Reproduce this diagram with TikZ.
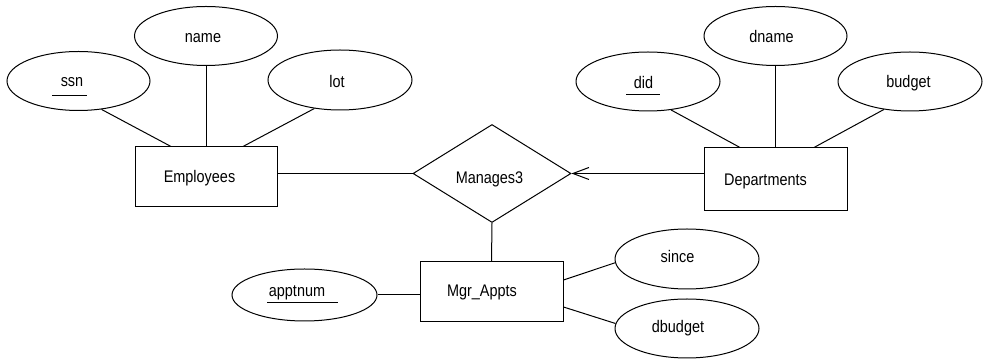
\documentclass[tikz,border=0pt]{standalone}
\usepackage{fontspec}
\setmainfont{Liberation Sans}[FakeStretch=0.86]
\usetikzlibrary{shapes.geometric,arrows.meta,calc}
\begin{document}
\begin{tikzpicture}[x=0.75pt,y=-0.75pt,line width=0.75pt,
  attr/.style={ellipse,draw,inner sep=0pt,minimum width=107.25pt,minimum height=44.25pt},
  entbox/.style={rectangle,draw,inner sep=0pt,minimum width=107.25pt,minimum height=45pt},
  relbox/.style={diamond,draw,inner sep=0pt,minimum width=118.5pt,minimum height=73.5pt},
  lbl/.style={anchor=base,inner sep=0pt,font=\fontsize{12.6}{15}\selectfont},
  keyline/.style={line width=0.75pt}]
\useasboundingbox (0,0) rectangle (986,359);

% entities and relationship
\node[entbox,minimum width=106.5pt] (emp) at (206,177) {};
\node[entbox,minimum height=47.25pt] (dept) at (775.5,179.5) {};
\node[entbox] (mgr) at (491.5,292) {};
\node[relbox] (man) at (492,173.5) {};

% attributes
\node[attr] (ssn) at (78.5,81) {};
\node[attr] (name) at (206,36) {};
\node[attr,minimum width=108pt,minimum height=45pt] (lot) at (340,80) {};
\node[attr,minimum width=108pt] (did) at (648,81.5) {};
\node[attr] (dname) at (775.5,36) {};
\node[attr,minimum width=108pt] (budget) at (910,81.5) {};
\node[attr,minimum width=108pt,minimum height=45pt] (since) at (687,259) {};
\node[attr,minimum width=108pt] (dbudget) at (687,328.5) {};
\node[attr,minimum width=108.75pt,minimum height=39pt] (appt) at (304.5,295) {};

% texts
\node[lbl] (tssn) at (72,87) {ssn};
\node[lbl] (tname) at (203,43) {name};
\node[lbl] (tlot) at (337,88) {lot};
\node[lbl] (temp) at (199.5,183) {Employees};
\node[lbl] (tman) at (489.5,184) {Manages3};
\node[lbl] (tdept) at (765.5,186) {Departments};
\node[lbl] (tdid) at (643.5,89) {did};
\node[lbl] (tdname) at (771.5,43) {dname};
\node[lbl] (tbudget) at (908.5,88) {budget};
\node[lbl] (tsince) at (677.5,263) {since};
\node[lbl] (tdbudget) at (678,333) {dbudget};
\node[lbl] (tappt) at (297,297) {apptnum};
\node[lbl] (tmgr) at (482,297) {Mgr\_Appts};

% key underlines
\draw[keyline] (52,96) -- (87,96);
\draw[keyline] (626,94.3) -- (660,94.3);
\draw[keyline] (267.3,302.7) -- (337.7,302.7);

% connectors
\draw (ssn.{-51}) -- ($(emp.north)+(-35,0)$);
\draw (name.south) -- (emp.north);
\draw (lot.{-132}) -- ($(emp.north)+(37,0)$);
\draw (did.{-51}) -- ($(dept.north)+(-35.5,0)$);
\draw (dname.south) -- (dept.north);
\draw (budget.{-133.5}) -- ($(dept.north)+(38.5,0)$);
\draw (emp.east |- man.west) -- (man.west);
\draw[-{Straight Barb[length=12pt,width=9pt]}] (dept.west |- man.east) -- (man.east);
\draw (man.south) -- (mgr.north);
\draw (appt.east) -- (appt.east -| mgr.west);
\draw ($(mgr.east)+(0,-12)$) -- (since.{183});
\draw ($(mgr.east)+(0,15)$) -- (dbudget.{176});
\end{tikzpicture}
\end{document}
